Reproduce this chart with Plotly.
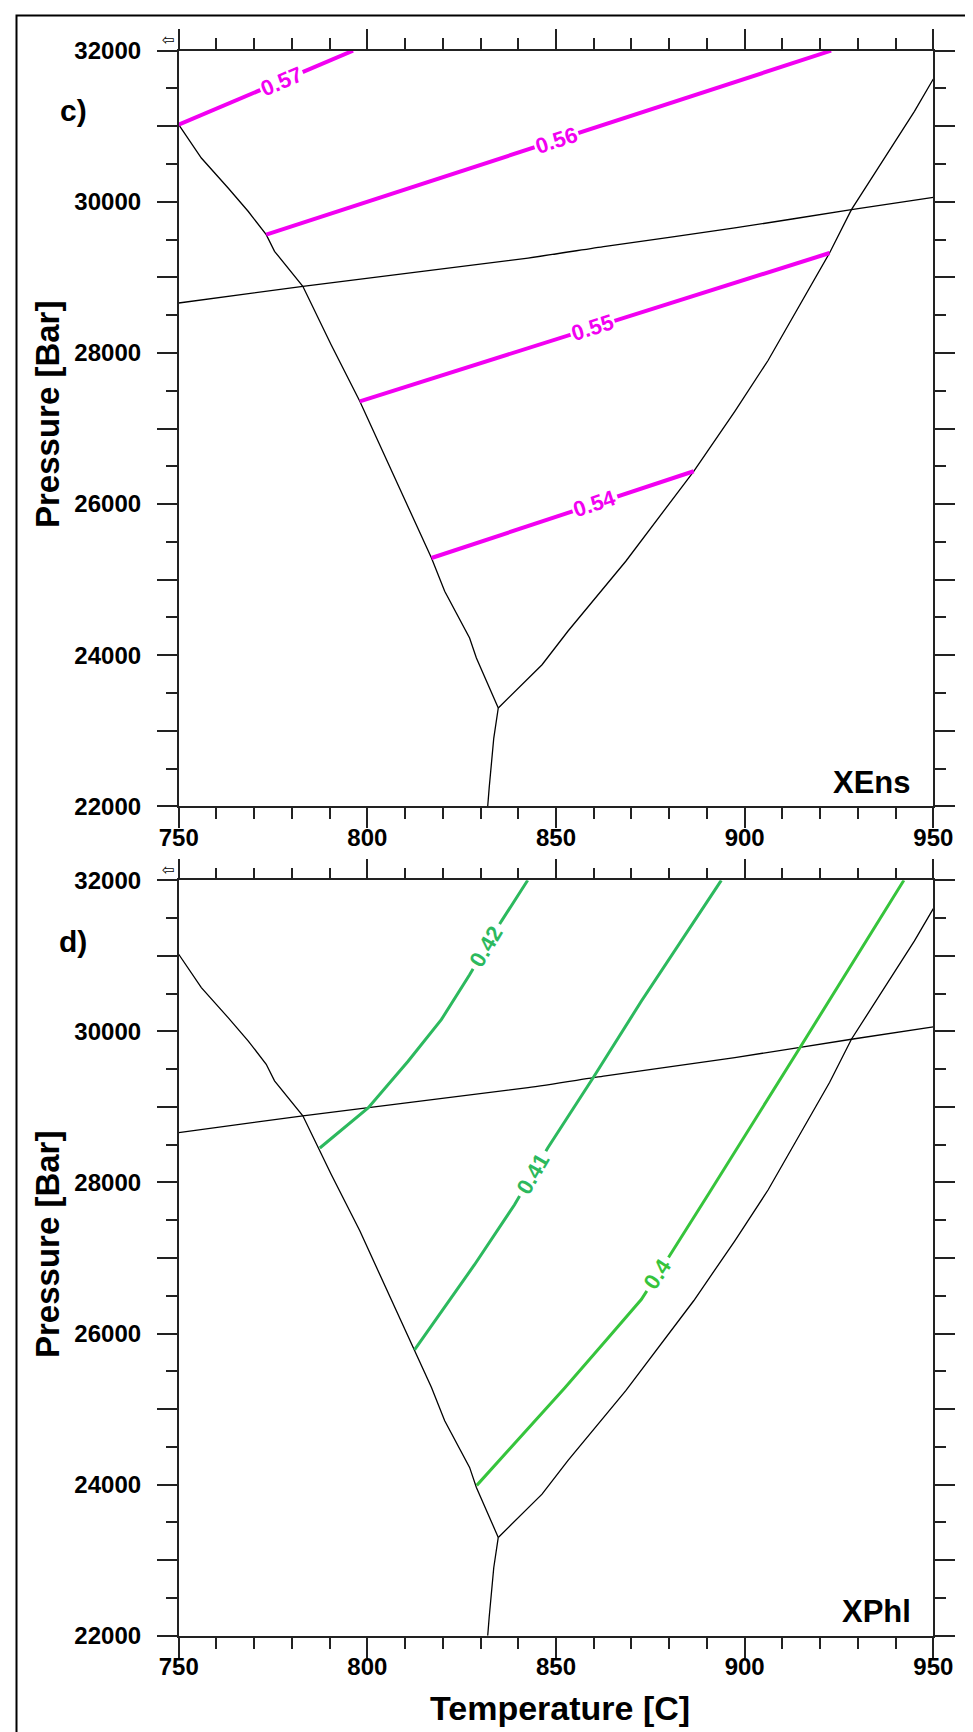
import math
import numpy as np
import plotly.graph_objects as go

# ---------------- data (T in C, P in bar) ----------------
left_T = [750.0, 756.0, 763.1, 768.4, 773.2, 775.4, 782.9, 790.4, 798.0, 809.0, 817.0, 820.5, 827.1, 828.9, 834.7]
left_P = [31021, 30580, 30183, 29875, 29565, 29345, 28882, 28109, 27360, 26169, 25286, 24846, 24228, 23963, 23301]
right_T = [834.7, 846.3, 853.2, 868.5, 886.5, 897.4, 906.2, 915.0, 922.5, 928.3, 937.1, 945.0, 950.0]
right_P = [23301, 23874, 24320, 25243, 26434, 27228, 27900, 28660, 29323, 29896, 30580, 31198, 31625]
low_T = [834.7, 833.5, 832.3, 831.9]
low_P = [23301, 22900, 22250, 22000]
flat_T = [750.0, 782.9, 842.6, 863.1, 897.4, 928.3, 950.0]
flat_P = [28661, 28882, 29256, 29411, 29654, 29896, 30060]

ens_levels = ["0.57", "0.56", "0.55", "0.54"]
ens_T = [[750.0, 796.2], [773.2, 922.9], [798.0, 922.5], [817.0, 886.5]]
ens_P = [[31021, 32000], [29565, 32000], [27360, 29323], [25286, 26434]]
ens_label_T = [777.2, 850.0, 859.8, 860.3]

phl_levels = ["0.42", "0.41", "0.4"]
phl_T = [[787.4, 800.2, 810.8, 819.6, 827.1, 835.5, 842.5],
         [812.5, 828.4, 839.0, 847.8, 859.8, 872.6, 893.8],
         [829.0, 852.3, 863.8, 872.6, 880.1, 890.3, 914.6, 942.2]]
phl_P = [[28456, 28986, 29604, 30155, 30750, 31457, 32000],
         [25785, 26911, 27705, 28456, 29383, 30398, 32000],
         [23990, 25279, 25940, 26450, 27030, 27837, 29780, 32000]]
phl_label_T = [831.5, 843.9, 877.0]
phl_colors = ["#2cb95e", "#2cb95e", "#36c43c"]

x_ticks = [750, 800, 850, 900, 950]
y_ticks = list(range(22000, 32001, 1000))
y_ticktext = [str(v) if v % 2000 == 0 else "" for v in y_ticks]

# ---------------- layout geometry ----------------
W, H = 973, 1732
PX0, PX1 = 170.7, 925.3
TOP = (42.7, 798.3)
BOT = (872.3, 1627.7)
XR = (750, 950)
YR = (22000, 32000)
FONT = "Liberation Sans, Arial, sans-serif"

sx = (PX1 - PX0) / (XR[1] - XR[0])
sy = (TOP[1] - TOP[0]) / (YR[1] - YR[0])


def ydom(p):
    return [1 - p[1] / H, 1 - p[0] / H]


def angle_at(T, P, t0):
    t1, t2 = t0 - 2.0, t0 + 2.0
    p1, p2 = np.interp(t1, T, P), np.interp(t2, T, P)
    return -math.degrees(math.atan2((p2 - p1) * sy, (t2 - t1) * sx))


fig = go.Figure()

boundaries = [(left_T, left_P, "linear"), (right_T, right_P, "linear"),
              (low_T, low_P, "linear"), (flat_T, flat_P, "spline")]
annotations = []

for xa, ya in [("x", "y"), ("x2", "y2")]:
    for T, P, shp in boundaries:
        fig.add_trace(go.Scatter(x=T, y=P, mode="lines", xaxis=xa, yaxis=ya,
                                 line=dict(color="black", width=1.3, shape=shp, smoothing=0.6),
                                 showlegend=False, hoverinfo="skip"))

# XEns isopleths (top panel)
for lev, T, P, lt in zip(ens_levels, ens_T, ens_P, ens_label_T):
    fig.add_trace(go.Scatter(x=T, y=P, mode="lines", xaxis="x", yaxis="y",
                             line=dict(color="#f200f2", width=4), showlegend=False))
    annotations.append(dict(x=lt, y=float(np.interp(lt, T, P)), xref="x", yref="y",
                            text=lev, showarrow=False, textangle=angle_at(T, P, lt),
                            bgcolor="white", borderpad=1,
                            font=dict(family=FONT, size=22, color="#f200f2", weight="bold")))

# XPhl isopleths (bottom panel)
for lev, T, P, lt, c in zip(phl_levels, phl_T, phl_P, phl_label_T, phl_colors):
    fig.add_trace(go.Scatter(x=T, y=P, mode="lines", xaxis="x2", yaxis="y2",
                             line=dict(color=c, width=3), showlegend=False))
    annotations.append(dict(x=lt, y=float(np.interp(lt, T, P)), xref="x2", yref="y2",
                            text=lev, showarrow=False, textangle=angle_at(T, P, lt),
                            bgcolor="white", borderpad=4,
                            font=dict(family=FONT, size=22, color=c, weight="bold")))

tickfont = dict(family=FONT, size=24, color="black", weight="bold")
xcommon = dict(range=list(XR), tickmode="array", tickvals=x_ticks, ticks="outside",
               ticklen=20, tickwidth=1.6, tickcolor="#222", showline=True, linewidth=1.6,
               linecolor="#222", mirror="ticks", showgrid=False, zeroline=False,
               tickfont=tickfont, ticklabelstandoff=-11,
               minor=dict(tickmode="linear", tick0=750, dtick=10, ticks="outside",
                          ticklen=11, tickwidth=1.6, tickcolor="#222", showgrid=False),
               domain=[PX0 / W, PX1 / W])
ycommon = dict(range=list(YR), tickmode="array", tickvals=y_ticks, ticktext=y_ticktext,
               ticks="outside", ticklen=20, tickwidth=1.6, tickcolor="#222",
               showline=True, linewidth=1.6, linecolor="#222", mirror="ticks",
               showgrid=False, zeroline=False, tickfont=tickfont, ticklabelstandoff=11,
               minor=dict(tickmode="linear", tick0=22000, dtick=500, ticks="outside",
                          ticklen=11, tickwidth=1.6, tickcolor="#222", showgrid=False))

fig.update_layout(
    width=W, height=H,
    margin=dict(l=0, r=0, t=0, b=0, autoexpand=False),
    paper_bgcolor="white", plot_bgcolor="white",
    xaxis=dict(xcommon, anchor="y"),
    yaxis=dict(ycommon, anchor="x", domain=ydom(TOP)),
    xaxis2=dict(xcommon, anchor="y2"),
    yaxis2=dict(ycommon, anchor="x2", domain=ydom(BOT)),
)


def paper(px, py):
    return px / W, 1 - py / H


txt = []
# panel letters
for s, py in [("c)", 103), ("d)", 933)]:
    x, y = paper(65, py)
    txt.append(dict(x=x, y=y, text=s, font=dict(family=FONT, size=30, color="black", weight="bold")))
# phase names
for s, py in [("XEns", 775), ("XPhl", 1603)]:
    x, y = paper(905, py)
    txt.append(dict(x=x, y=y, text=s, xanchor="right",
                    font=dict(family=FONT, size=31, color="black", weight="bold")))
# y titles
for py in [407, 1237]:
    x, y = paper(39, py)
    txt.append(dict(x=x, y=y, text="Pressure [Bar]", textangle=-90,
                    font=dict(family=FONT, size=33, color="black", weight="bold")))
# x title
x, y = paper(552, 1700)
txt.append(dict(x=x, y=y, text="Temperature [C]",
                font=dict(family=FONT, size=34, color="black", weight="bold")))
# small corner icons
for py in [32, 862]:
    x, y = paper(160, py)
    txt.append(dict(x=x, y=y, text="⇦", font=dict(family="DejaVu Sans", size=15, color="black")))

for a in txt:
    a.update(xref="paper", yref="paper", showarrow=False)
    a.setdefault("xanchor", "center")
    a.setdefault("yanchor", "middle")
    annotations.append(a)

fig.update_layout(annotations=annotations)

fig.add_shape(type="rect", xref="paper", yref="paper",
              x0=8.5 / W, x1=970.5 / W, y0=1 - 1729 / H, y1=1 - 7.5 / H,
              line=dict(color="black", width=2), fillcolor="rgba(0,0,0,0)")

fig.write_html("out.html")
